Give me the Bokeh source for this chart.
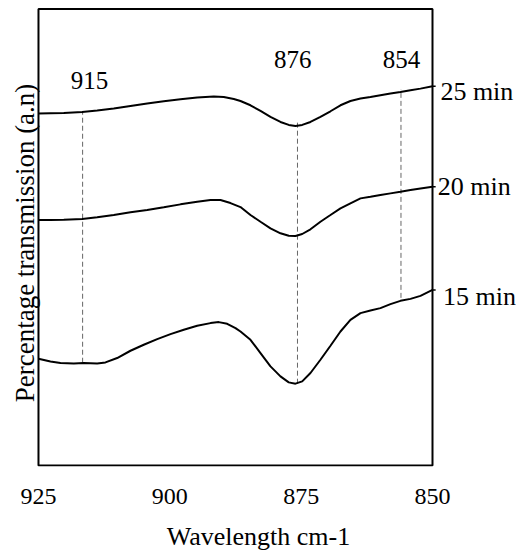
import math
from bokeh.plotting import figure
from bokeh.models import Range1d, Label, FixedTicker
from bokeh.embed import file_html
from bokeh.resources import INLINE

# ---- data (wavelength in cm-1, transmission in arbitrary units) ----
wl_25 = [925, 922.72, 920.18, 916.68, 913.83, 910.67, 907.49, 904.31, 901.15, 897.97, 894.79,
         891.63, 889.73, 887.82, 886.55, 884.65, 882.74, 880.84, 878.94, 877.36, 876.08, 874.80,
         873.23, 871.33, 869.42, 867.52, 865.62, 863.71, 861.81, 859.91, 858.00, 856.10, 854.19,
         852.29, 850]
t_25 = [352.7, 353, 353.3, 354.3, 355.7, 357.7, 360.3, 362.7, 365, 367, 368.7,
        369.7, 369.3, 367.3, 365.3, 361, 355.3, 349.3, 344.3, 341.3, 340.3, 341.3,
        344.3, 349.3, 355, 361, 365.3, 367.7, 369.3, 371, 372.7, 374.3, 376,
        377.7, 380]

wl_20 = [925, 922.72, 920.18, 916.68, 913.83, 910.67, 907.49, 904.31, 901.15, 897.97, 894.79,
         892.26, 890.36, 888.45, 886.55, 884.65, 882.74, 880.84, 878.94, 877.36, 876.08, 874.80,
         873.23, 871.33, 869.42, 867.52, 865.62, 863.71, 861.81, 859.91, 858.00, 856.10, 854.19,
         852.29, 850]
t_20 = [246, 246, 246.3, 247, 248.7, 251, 253.7, 256, 258.7, 261.7, 264.3,
        266, 266, 263, 259, 251, 244.3, 237.7, 232.7, 230.3, 230, 232,
        236.7, 244.3, 251, 257.7, 262.7, 267.7, 269.3, 271, 272.7, 274.3, 276,
        277.7, 279.3]

wl_15 = [925, 922.72, 920.81, 918.28, 916.38, 913.83, 912.25, 910.02, 907.49, 904.96, 902.40,
         899.87, 897.34, 894.79, 892.26, 890.68, 889.08, 887.50, 886.55, 884.65, 882.74, 880.84,
         878.94, 877.36, 876.08, 874.80, 873.23, 871.33, 869.42, 867.52, 865.62, 863.71, 861.81,
         859.91, 858.00, 856.10, 854.19, 852.29, 850]
t_15 = [107, 104.3, 102.7, 102.3, 102.7, 102.3, 103.3, 107.7, 115, 121, 126.7,
        131.7, 136, 140, 142.7, 143.7, 142, 137.7, 134.3, 126, 112.7, 99.3,
        89.3, 83.3, 82, 84.3, 92.7, 106, 120, 134.3, 146, 152.7, 155.3,
        157.7, 161.7, 165, 167, 170, 176]

series_names = ["25 min", "20 min", "15 min"]

peak_labels = ["915", "876", "854"]
peak_x = [916.6, 875.7, 856.0]
peak_top = [354, 346, 376.7]
peak_bottom = [103, 82, 168]

x_ticks = [925, 900, 875, 850]

FONT = "Liberation Serif"

p = figure(width=516, height=553, output_backend="svg", toolbar_location=None,
           x_range=Range1d(932.23, 834.01), y_range=Range1d(-1, 466),
           min_border_left=0, min_border_right=0, min_border_top=0, min_border_bottom=86)
p.background_fill_color = "white"
p.border_fill_color = "white"
p.outline_line_color = None
p.xgrid.visible = False
p.ygrid.visible = False
p.yaxis.visible = False

xa = p.xaxis[0]
xa.ticker = FixedTicker(ticks=x_ticks)
xa.axis_line_color = None
xa.major_tick_line_color = None
xa.minor_tick_line_color = None
xa.major_label_text_font = FONT
xa.major_label_text_font_size = "24px"
xa.major_label_text_color = "black"
xa.major_label_standoff = 16
xa.axis_label = "Wavelength cm-1"
xa.axis_label_text_font = FONT
xa.axis_label_text_font_size = "26px"
xa.axis_label_text_font_style = "normal"
xa.axis_label_text_color = "black"
xa.axis_label_standoff = 15

# plot box
p.quad(left=[x_ticks[0]], right=[x_ticks[-1]], bottom=[0], top=[457.5],
       fill_color=None, line_color="black", line_width=2)

# dashed marker lines
p.segment(x0=peak_x, y0=peak_bottom, x1=peak_x, y1=peak_top,
          line_color="#666666", line_width=1, line_dash="5 3")

# curves
for wl, t in [(wl_25, t_25), (wl_20, t_20), (wl_15, t_15)]:
    p.line(wl, t, line_color="black", line_width=2)

# small end ticks at right edge
ends = [t_25[-1], t_20[-1], t_15[-1]]
p.segment(x0=[850] * 3, y0=ends, x1=[849.4] * 3, y1=ends, line_color="black", line_width=1.5)

# curve labels (left x, baseline y)
curve_label_pos = [(848.5, 374.7), (849.0, 279.7), (848.0, 169)]
for name, (xv, yv) in zip(series_names, curve_label_pos):
    p.add_layout(Label(x=xv, y=yv, text=name,
                       text_font=FONT, text_font_size="26px", text_color="black",
                       text_align="left", text_baseline="alphabetic"))

# peak labels (center x, baseline y)
label_pos = [(915.3, 385.7), (876.6, 407.3), (855.9, 407.3)]
for txt, (xv, yv) in zip(peak_labels, label_pos):
    p.add_layout(Label(x=xv, y=yv, text=txt, text_font=FONT, text_font_size="25px",
                       text_color="black", text_align="center", text_baseline="alphabetic"))

# y axis title
p.add_layout(Label(x=927.57, y=223, text="Percentage transmission (a.n)", angle=math.pi / 2,
                   text_font=FONT, text_font_size="27px", text_color="black",
                   text_align="center", text_baseline="alphabetic"))

open("out.html", "w").write(file_html(p, INLINE))
